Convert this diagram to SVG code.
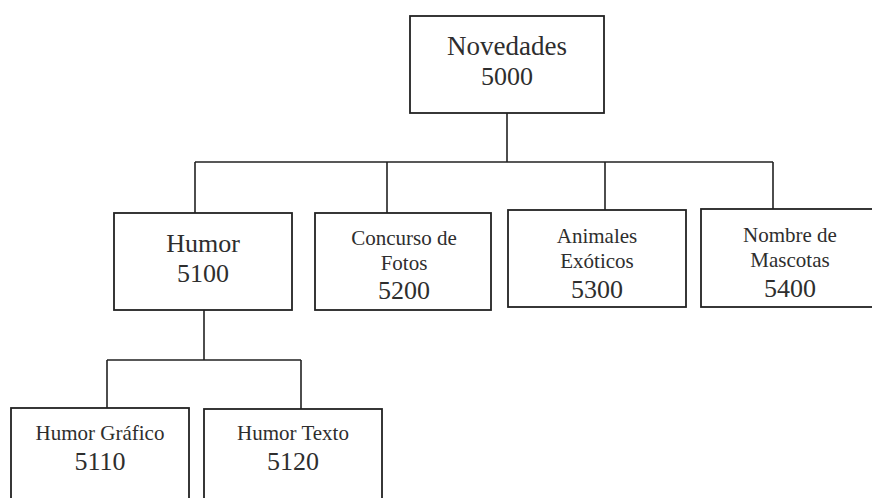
<svg xmlns="http://www.w3.org/2000/svg" width="872" height="498" viewBox="0 0 872 498">
<style>
.box{fill:#fff;stroke:#222;stroke-width:1.8}
.ln{fill:none;stroke:#222;stroke-width:1.6}
text{font-family:"Liberation Serif","Times New Roman",serif;fill:#2e2e2e;text-anchor:middle}
.big{font-size:26px}
.sm{font-size:21px}
</style>
<rect width="872" height="498" fill="#fff"/>
<g id="connectors">
<path class="ln" d="M507 113V162M195 162H773M195 162V213M387 162V213M605 162V210M773 162V209"/>
<path class="ln" d="M204 310V360M107 360H301M107 360V408M301 360V409"/>
</g>
<g id="n5000">
<rect class="box" x="410" y="16" width="194" height="97"/>
<text class="big" x="507" y="55" style="font-size:27px">Novedades</text>
<text class="big" x="507" y="85">5000</text>
</g>
<g id="n5100">
<rect class="box" x="114" y="213" width="178" height="97"/>
<text class="big" x="203" y="252">Humor</text>
<text class="big" x="203" y="282">5100</text>
</g>
<g id="n5200">
<rect class="box" x="315" y="213" width="176" height="97"/>
<text class="sm" x="404" y="245">Concurso de</text>
<text class="sm" x="404" y="270">Fotos</text>
<text class="big" x="404" y="299">5200</text>
</g>
<g id="n5300">
<rect class="box" x="508" y="210" width="178" height="97"/>
<text class="sm" x="597" y="243">Animales</text>
<text class="sm" x="597" y="268">Exóticos</text>
<text class="big" x="597" y="298">5300</text>
</g>
<g id="n5400">
<rect class="box" x="701" y="209" width="180" height="98"/>
<text class="sm" x="790" y="242">Nombre de</text>
<text class="sm" x="790" y="267">Mascotas</text>
<text class="big" x="790" y="297">5400</text>
</g>
<g id="n5110">
<rect class="box" x="11" y="408" width="178" height="100"/>
<text class="sm" x="100" y="440">Humor Gráfico</text>
<text class="big" x="100" y="470">5110</text>
</g>
<g id="n5120">
<rect class="box" x="204" y="409" width="178" height="100"/>
<text class="sm" x="293" y="440">Humor Texto</text>
<text class="big" x="293" y="470">5120</text>
</g>
</svg>
